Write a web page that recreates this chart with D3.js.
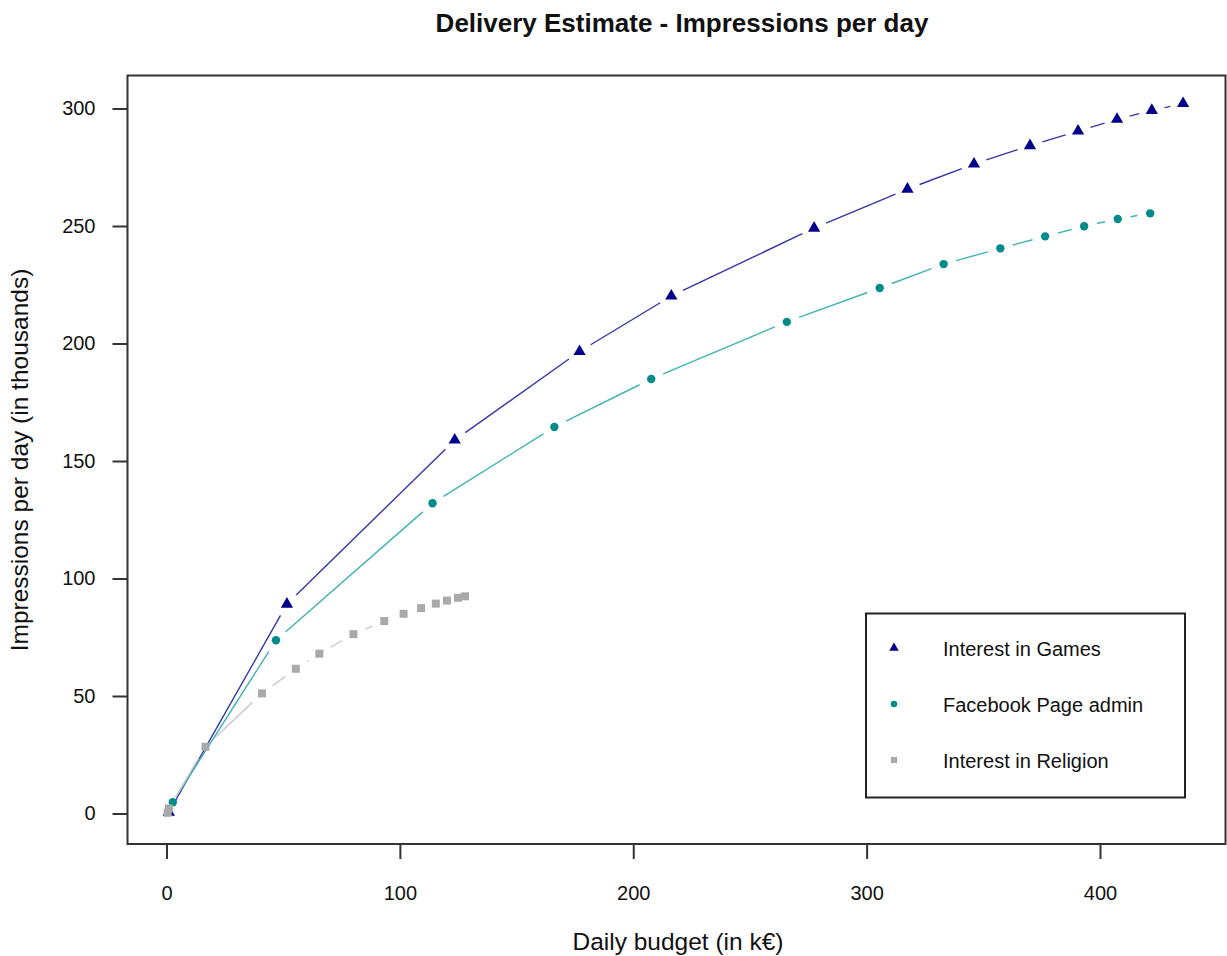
<!DOCTYPE html>
<html>
<head>
<meta charset="utf-8">
<script src="https://cdn.jsdelivr.net/npm/d3@7"></script>
<style>
  body { margin: 0; background: #fff; }
  text { font-family: "Liberation Sans", Arial, sans-serif; fill: #111; }
</style>
</head>
<body>
<div id="chart"></div>
<script>
// Delivery estimate chart

const gamesBudget = [1, 51.6, 123.5, 177, 216.3, 277.5, 317.5, 346, 370, 390.6, 407.3, 422.2, 435.6];
const gamesImpr   = [0.5, 89.1, 158.9, 196.6, 220.2, 249.1, 265.7, 276.4, 284.2, 290.4, 295.4, 299.2, 302.1];

const fbBudget = [2.7, 46.9, 114, 166.2, 207.7, 265.8, 305.6, 333, 357.3, 376.5, 393.2, 407.6, 421.5];
const fbImpr   = [4.8, 73.7, 132, 164.5, 184.9, 209.2, 223.6, 233.8, 240.5, 245.6, 249.9, 253, 255.4];

const relBudget = [0.5, 1, 16.7, 40.9, 55.4, 65.5, 80.1, 93.3, 101.6, 109.1, 115.4, 120.2, 124.9, 127.9];
const relImpr   = [0.3, 2.2, 28.4, 51.1, 61.6, 68, 76.3, 81.9, 85, 87.4, 89.3, 90.6, 91.8, 92.4];

const seriesNames = ["Interest in Games", "Facebook Page admin", "Interest in Religion"];
const xTicks = [0, 100, 200, 300, 400];
const yTicks = [0, 50, 100, 150, 200, 250, 300];

const width = 1227;
const height = 956;
const box = {left: 127.5, top: 75.5, right: 1225.5, bottom: 844};

const svg = d3.select("#chart")
  .append("svg")
  .attr("width", width)
  .attr("height", height);

// scales
const x = d3.scaleLinear().domain([0, 400]).range([166.5, 1100]);
const y = d3.scaleLinear().domain([0, 300]).range([813.5, 108.5]);

// plot frame
svg.append("rect")
  .attr("x", box.left).attr("y", box.top)
  .attr("width", box.right - box.left).attr("height", box.bottom - box.top)
  .attr("fill", "none").attr("stroke", "#333").attr("stroke-width", 2);

// axes
const xAxis = svg.append("g")
  .attr("transform", `translate(0,${box.bottom})`)
  .call(d3.axisBottom(x).tickValues(xTicks).tickSize(15).tickPadding(27));
const yAxis = svg.append("g")
  .attr("transform", `translate(${box.left},0)`)
  .call(d3.axisLeft(y).tickValues(yTicks).tickSize(15).tickPadding(17));

[xAxis, yAxis].forEach(function(g) {
  g.select(".domain").remove();
  g.selectAll(".tick line").attr("stroke", "#333").attr("stroke-width", 2);
  g.selectAll(".tick text")
    .style("font-size", "20px")
    .attr("fill", "#111");
});

// titles
svg.append("text")
  .attr("x", 682).attr("y", 32)
  .attr("text-anchor", "middle")
  .style("font-size", "26px").attr("font-weight", "bold")
  .text("Delivery Estimate - Impressions per day");

svg.append("text")
  .attr("x", 678).attr("y", 950)
  .attr("text-anchor", "middle")
  .style("font-size", "24.5px")
  .text("Daily budget (in k€)");

svg.append("text")
  .attr("transform", "translate(28,460) rotate(-90)")
  .attr("text-anchor", "middle")
  .style("font-size", "24.5px")
  .text("Impressions per day (in thousands)");

// series: lines with gaps around the points, then markers
const series = [
  {xs: gamesBudget, ys: gamesImpr, line: "#3535a8", fill: "#00008b", shape: d3.symbolTriangle, size: 65},
  {xs: fbBudget, ys: fbImpr, line: "#3fb3b3", fill: "#008b8b", shape: d3.symbolCircle, size: 55},
  {xs: relBudget, ys: relImpr, line: "#c8c8c8", fill: "#a9a9a9", shape: d3.symbolSquare, size: 64}
];

const gap = 13;

series.forEach(function(s) {
  const pts = s.xs.map((v, i) => [x(v), y(s.ys[i])]);
  const segs = [];
  for (let i = 0; i < pts.length - 1; i++) {
    const [x1, y1] = pts[i], [x2, y2] = pts[i + 1];
    const len = Math.hypot(x2 - x1, y2 - y1);
    if (len <= 2 * gap) continue;
    const ux = (x2 - x1) / len, uy = (y2 - y1) / len;
    segs.push([x1 + ux * gap, y1 + uy * gap, x2 - ux * gap, y2 - uy * gap]);
  }
  svg.append("g").selectAll("line")
    .data(segs)
    .enter()
    .append("line")
      .attr("x1", d => d[0]).attr("y1", d => d[1])
      .attr("x2", d => d[2]).attr("y2", d => d[3])
      .attr("stroke", s.line)
      .attr("stroke-width", 1.4);

  svg.append("g").selectAll("path")
    .data(pts)
    .enter()
    .append("path")
      .attr("transform", d => `translate(${d[0]},${d[1]})`)
      .attr("d", d3.symbol().type(s.shape).size(s.size))
      .attr("fill", s.fill);
});

// legend
const legend = svg.append("g");
legend.append("rect")
  .attr("x", 866).attr("y", 613.5)
  .attr("width", 319).attr("height", 184)
  .attr("fill", "#fff").attr("stroke", "#222").attr("stroke-width", 2);

seriesNames.forEach(function(name, i) {
  const ly = 648 + i * 56;
  legend.append("path")
    .attr("transform", `translate(894,${ly})`)
    .attr("d", d3.symbol().type(series[i].shape).size(series[i].size * 0.6))
    .attr("fill", series[i].fill);
  legend.append("text")
    .attr("x", 943).attr("y", ly + 8)
    .style("font-size", "20px")
    .text(name);
});
</script>
</body>
</html>
